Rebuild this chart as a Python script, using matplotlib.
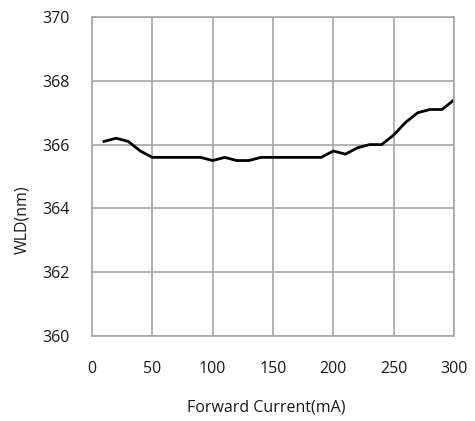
import matplotlib
matplotlib.use('Agg')
import matplotlib.pyplot as plt
from matplotlib.ticker import MultipleLocator

plt.rcParams['font.family'] = ['Open Sans', 'DejaVu Sans']

# forward current (mA) vs. dominant wavelength (nm)
current = [10, 20, 30, 40, 50, 60, 70, 80, 90, 100,
           110, 120, 130, 140, 150, 160, 170, 180, 190, 200,
           210, 220, 230, 240, 250, 260, 270, 280, 290, 300]
wld = [366.1, 366.2, 366.1, 365.8, 365.6, 365.6, 365.6, 365.6, 365.6, 365.5,
       365.6, 365.5, 365.5, 365.6, 365.6, 365.6, 365.6, 365.6, 365.6, 365.8,
       365.7, 365.9, 366.0, 366.0, 366.3, 366.7, 367.0, 367.1, 367.1, 367.4]

fig = plt.figure(figsize=(4.75, 4.21), dpi=100)
ax = fig.add_axes([0.1937, 0.2019, 0.7621, 0.7577])

ax.plot(current, wld, color='black', linewidth=2)

ax.set_xlim(0, 300)
ax.set_ylim(360, 370)
ax.xaxis.set_major_locator(MultipleLocator(50))
ax.yaxis.set_major_locator(MultipleLocator(2))
ax.grid(True, color='#a6a6a6', linewidth=1.2)
ax.set_axisbelow(True)
for s in ax.spines.values():
    s.set_color('#a6a6a6')
    s.set_linewidth(1.2)

ax.tick_params(length=0, labelsize=11.5, colors='#1a1a1a')
ax.tick_params(axis='y', pad=16)
ax.tick_params(axis='x', pad=18)

ax.set_xlabel('Forward Current(mA)', fontsize=11.5, color='#1a1a1a')
ax.set_ylabel('WLD(nm)', fontsize=11.5, color='#1a1a1a')
ax.xaxis.set_label_coords(0.48, -0.20)
ax.yaxis.set_label_coords(-0.17, 0.366)

fig.savefig('out.png', dpi=100)
